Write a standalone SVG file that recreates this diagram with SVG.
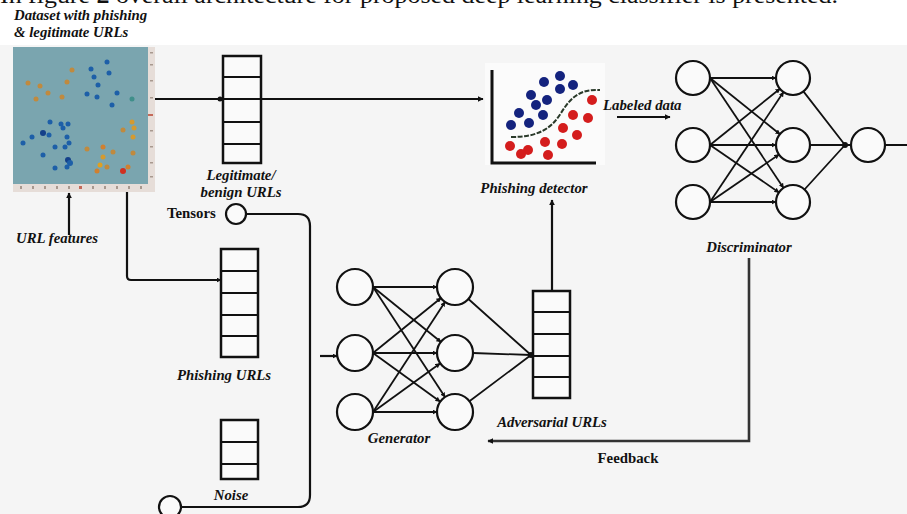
<svg xmlns="http://www.w3.org/2000/svg" width="907" height="514" viewBox="0 0 907 514">
<defs>
<marker id="ah" viewBox="0 0 10 10" refX="9" refY="5" markerWidth="6" markerHeight="6" markerUnits="userSpaceOnUse" orient="auto"><path d="M0,0 L10,5 L0,10 z" fill="#111"/></marker>
<marker id="ahs" viewBox="0 0 10 10" refX="9" refY="5" markerWidth="5" markerHeight="5" markerUnits="userSpaceOnUse" orient="auto"><path d="M0,0 L10,5 L0,10 z" fill="#111"/></marker>
<style>
.lbl{font-family:"Liberation Serif",serif;font-style:italic;font-weight:bold;font-size:14.8px;fill:#111}
.lblu{font-family:"Liberation Serif",serif;font-weight:bold;font-size:14.8px;fill:#111}
.box{fill:#fafafa;stroke:#111;stroke-width:2.5}
.cell{stroke:#111;stroke-width:2}
.nd{fill:#fafafa;stroke:#111;stroke-width:2.2}
.ln{fill:none;stroke:#111;stroke-width:2.2}
.nn{fill:none;stroke:#111;stroke-width:1.8}
.bd{fill:#14237e}
.rd{fill:#d41d1d}
.sb{fill:#1d5fa8}
.so{fill:#c08a3e}
</style>
</defs>
<rect x="0" y="0" width="907" height="514" fill="#ffffff"/>
<rect x="0" y="45" width="907" height="469" fill="#f5f5f5"/>
<text x="0" y="3" font-family="Liberation Serif, serif" font-size="24" fill="#111" textLength="838" lengthAdjust="spacingAndGlyphs">In figure <tspan font-weight="bold">2</tspan> overall architecture for proposed deep learning classifier is presented.</text>

<g id="dataset">
<text class="lbl" x="14" y="20">Dataset with phishing</text>
<text class="lbl" x="14" y="37">&amp; legitimate URLs</text>
<rect x="13" y="47" width="142" height="145" fill="#e6ddd8"/>
<rect x="13" y="47" width="135" height="137" fill="#7aa5af"/>
<g fill="#a8998f">
<rect x="150" y="52" width="3" height="1.5"/><rect x="150" y="64" width="3" height="1.5"/><rect x="150" y="80" width="3" height="1.5"/><rect x="150" y="97" width="3" height="1.5"/><rect x="148" y="114" width="5" height="2" fill="#c46a5a"/><rect x="150" y="130" width="3" height="1.5"/><rect x="150" y="146" width="3" height="1.5"/><rect x="150" y="162" width="3" height="1.5"/><rect x="150" y="176" width="3" height="1.5"/>
<rect x="20" y="186" width="2" height="3"/><rect x="32" y="186" width="2" height="3"/><rect x="44" y="186" width="2" height="3"/><rect x="56" y="186" width="2" height="3"/><rect x="68" y="186" width="2" height="3"/><rect x="79" y="186" width="3" height="3" fill="#c46a5a"/><rect x="92" y="186" width="2" height="3"/><rect x="104" y="186" width="2" height="3"/><rect x="116" y="186" width="2" height="3"/><rect x="128" y="186" width="2" height="3"/><rect x="140" y="186" width="2" height="3"/>
</g>
<g class="sb">
<circle cx="107" cy="62" r="2.5"/><circle cx="91" cy="69" r="2.5"/><circle cx="109" cy="73" r="2.5"/><circle cx="94" cy="77" r="2.5"/><circle cx="98" cy="85" r="2.5"/><circle cx="87" cy="94" r="2.5"/><circle cx="97" cy="97" r="2.5"/><circle cx="117" cy="93" r="2.5"/><circle cx="112" cy="105" r="2.5"/><circle cx="132" cy="99" r="2.5" fill="#3f8f8a"/>
<circle cx="50" cy="122" r="2.5"/><circle cx="61" cy="124" r="2.5"/><circle cx="68" cy="124" r="2.5"/><circle cx="43" cy="133" r="3" fill="#14408a"/><circle cx="49" cy="135" r="2.5"/><circle cx="32" cy="137" r="2.5"/><circle cx="23" cy="143" r="2.5"/><circle cx="63" cy="128" r="2.5"/><circle cx="67" cy="137" r="2.5"/><circle cx="65" cy="147" r="2.5"/><circle cx="69" cy="143" r="2.5"/><circle cx="43" cy="155" r="2.5"/><circle cx="68" cy="160" r="3" fill="#14408a"/><circle cx="67" cy="167" r="2.5"/><circle cx="55" cy="168" r="2.5"/><circle cx="70" cy="163" r="3"/><circle cx="55" cy="147" r="2.5"/>
</g>
<g class="so">
<circle cx="72" cy="70" r="2.5"/><circle cx="28" cy="83" r="2.5"/><circle cx="40" cy="86" r="2.5"/><circle cx="67" cy="82" r="2.5"/><circle cx="48" cy="93" r="2.5"/><circle cx="36" cy="99" r="2.5"/><circle cx="62" cy="97" r="2.5"/><circle cx="132" cy="122" r="2.5" fill="#d49a30"/><circle cx="134" cy="128" r="2.5" fill="#d49a30"/><circle cx="133" cy="137" r="2.5" fill="#d49a30"/><circle cx="123" cy="130" r="2.5"/><circle cx="87" cy="149" r="2.5"/><circle cx="103" cy="147" r="2.5" fill="#d08030"/><circle cx="113" cy="152" r="2.5"/><circle cx="133" cy="153" r="2.5"/><circle cx="97" cy="171" r="2.5" fill="#d08030"/><circle cx="100" cy="165" r="2.5" fill="#e0a020"/><circle cx="107" cy="167" r="2.5"/><circle cx="128" cy="167" r="2.5" fill="#d08030"/><circle cx="103" cy="157" r="2.5" fill="#d49a30"/><circle cx="123" cy="171" r="3" fill="#d03020"/>
</g>
</g>

<g id="url-features"><text class="lbl" x="16" y="243">URL features</text></g>

<g id="legitimate-urls">
<rect class="box" x="223" y="56" width="38" height="107"/>
<line class="cell" x1="223" y1="77" x2="261" y2="77"/><line class="cell" x1="223" y1="99" x2="261" y2="99"/><line class="cell" x1="223" y1="122" x2="261" y2="122"/><line class="cell" x1="223" y1="144" x2="261" y2="144"/>
<text class="lbl" x="241" y="180" text-anchor="middle">Legitimate/</text>
<text class="lbl" x="241" y="197" text-anchor="middle">benign URLs</text>
</g>

<g id="tensors">
<text class="lblu" x="167" y="218">Tensors</text>
<circle class="nd" cx="236" cy="214" r="10"/>
</g>

<g id="phishing-urls">
<rect class="box" x="221" y="249" width="37" height="108"/>
<line class="cell" x1="221" y1="271" x2="258" y2="271"/><line class="cell" x1="221" y1="293" x2="258" y2="293"/><line class="cell" x1="221" y1="315" x2="258" y2="315"/><line class="cell" x1="221" y1="336" x2="258" y2="336"/>
<text class="lbl" x="224" y="380" text-anchor="middle">Phishing URLs</text>
</g>

<g id="noise">
<rect class="box" x="221" y="420" width="37" height="59"/>
<line class="cell" x1="221" y1="442" x2="258" y2="442"/><line class="cell" x1="221" y1="464" x2="258" y2="464"/>
<text class="lbl" x="231" y="500" text-anchor="middle">Noise</text>
<circle class="nd" cx="170" cy="507" r="11"/>
</g>

<g id="phishing-detector">
<rect x="485" y="63" width="120" height="102" fill="#fbfbfb"/>
<path d="M492,70 V163 H596" fill="none" stroke="#111" stroke-width="3"/>
<g class="bd">
<circle cx="544" cy="82" r="5"/><circle cx="560" cy="76" r="5"/><circle cx="573" cy="85" r="5"/><circle cx="560" cy="89" r="5"/><circle cx="531" cy="95" r="5"/><circle cx="547" cy="100" r="5"/><circle cx="536" cy="105" r="5"/><circle cx="519" cy="113" r="5"/><circle cx="543" cy="115" r="5"/><circle cx="529" cy="123" r="5"/><circle cx="511" cy="125" r="5"/>
</g>
<path d="M511,137 C538,137 551,129 561,113 C571,97 580,89 600,90" fill="none" stroke="#2a3a2a" stroke-width="2" stroke-dasharray="5,1.5"/>
<g class="rd">
<circle cx="592" cy="100" r="5"/><circle cx="573" cy="115" r="5"/><circle cx="588" cy="118" r="5"/><circle cx="563" cy="128" r="5"/><circle cx="577" cy="135" r="5"/><circle cx="562" cy="144" r="5"/><circle cx="545" cy="142" r="5"/><circle cx="510" cy="146" r="5"/><circle cx="528" cy="150" r="5"/><circle cx="521" cy="154" r="5"/><circle cx="548" cy="155" r="5"/>
</g>
<text class="lbl" x="534" y="193" text-anchor="middle">Phishing detector</text>
</g>

<g id="labeled-data"><text class="lbl" x="603" y="110">Labeled data</text></g>

<g id="generator">
<circle class="nd" cx="355" cy="287" r="18"/><circle class="nd" cx="355" cy="353" r="18"/><circle class="nd" cx="355" cy="412" r="18"/>
<circle class="nd" cx="455" cy="287" r="18"/><circle class="nd" cx="455" cy="353" r="18"/><circle class="nd" cx="455" cy="412" r="18"/>
<text class="lbl" x="399" y="443" text-anchor="middle">Generator</text>
</g>

<g id="adversarial-urls">
<rect class="box" x="533" y="291" width="37" height="107"/>
<line class="cell" x1="533" y1="312" x2="570" y2="312"/><line class="cell" x1="533" y1="334" x2="570" y2="334"/><line class="cell" x1="533" y1="356" x2="570" y2="356"/><line class="cell" x1="533" y1="377" x2="570" y2="377"/>
<text class="lbl" x="552" y="427" text-anchor="middle">Adversarial URLs</text>
</g>

<g id="discriminator">
<circle class="nd" cx="693" cy="78" r="17"/><circle class="nd" cx="693" cy="145" r="17"/><circle class="nd" cx="693" cy="202" r="17"/>
<circle class="nd" cx="793" cy="78" r="17"/><circle class="nd" cx="793" cy="145" r="17"/><circle class="nd" cx="793" cy="202" r="17"/>
<circle class="nd" cx="868" cy="145" r="17"/>
<text class="lbl" x="749" y="252" text-anchor="middle">Discriminator</text>
</g>

<g id="feedback-label"><text class="lblu" x="628" y="463" text-anchor="middle">Feedback</text></g>

<g id="connectors">
<path class="ln" d="M155,99 H483" marker-end="url(#ah)"/>
<circle cx="220" cy="99" r="2.5" fill="#111"/>
<path class="ln" d="M69,235 V193" marker-end="url(#ah)"/>
<path class="ln" d="M127,192 V276 Q127,280 131,280 H221" marker-end="url(#ahs)"/>
<path class="ln" d="M246,214 H298 Q310,214 310,226 V495 Q310,507 298,507 H181"/>
<path class="ln" d="M320,356 H337" marker-end="url(#ahs)"/>
<path class="ln" d="M617,117 H670" marker-end="url(#ah)"/>
<path class="ln" d="M552,291 V200" marker-end="url(#ah)"/>
<path d="M749,258 V441 H488" fill="none" stroke="#333" stroke-width="2.6" marker-end="url(#ah)"/>
<g class="nn">
<path d="M373,287 L437,287" marker-end="url(#ahs)"/>
<path d="M373,287 L441,342" marker-end="url(#ahs)"/>
<path d="M373,287 L445,397" marker-end="url(#ahs)"/>
<path d="M373,353 L441,298" marker-end="url(#ahs)"/>
<path d="M373,353 L437,353" marker-end="url(#ahs)"/>
<path d="M373,353 L440,401.5" marker-end="url(#ahs)"/>
<path d="M373,412 L445,302" marker-end="url(#ahs)"/>
<path d="M373,412 L440,363.5" marker-end="url(#ahs)"/>
<path d="M373,412 L437,412" marker-end="url(#ahs)"/>
<path d="M468.4,299 L531,355 M473,353 L531,355 M469.4,401.2 L531,355"/>
<path d="M710,78 L776,78" marker-end="url(#ahs)"/>
<path d="M710,78 L780,134.3" marker-end="url(#ahs)"/>
<path d="M710,78 L783.5,187.9" marker-end="url(#ahs)"/>
<path d="M710,145 L780,88.7" marker-end="url(#ahs)"/>
<path d="M710,145 L776,145" marker-end="url(#ahs)"/>
<path d="M710,145 L779,192.4" marker-end="url(#ahs)"/>
<path d="M710,202 L783.5,92.1" marker-end="url(#ahs)"/>
<path d="M710,202 L779,154.6" marker-end="url(#ahs)"/>
<path d="M710,202 L776,202" marker-end="url(#ahs)"/>
<path d="M803.4,91.4 L845,145 M810,145 L851,145 M804.5,189.5 L845,145 M885,145 L907,145"/>
</g>
<circle cx="531" cy="355" r="3" fill="#111"/>
<circle cx="845" cy="145" r="3" fill="#111"/>
</g>
</svg>
